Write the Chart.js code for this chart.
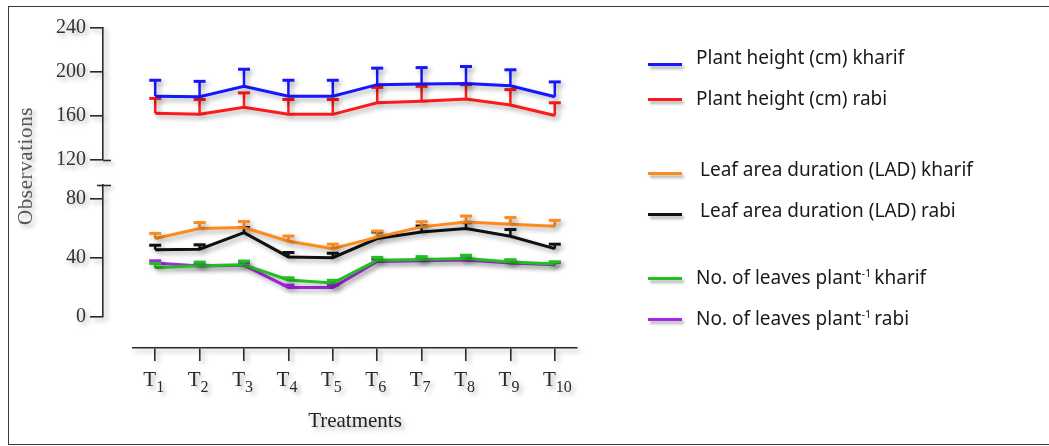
<!DOCTYPE html>
<html>
<head>
<meta charset="utf-8">
<script src="https://cdn.jsdelivr.net/npm/chart.js@4.4.1/dist/chart.umd.min.js"></script>
<style>
  html, body { margin: 0; padding: 0; background: #fff; }
  #wrap { position: relative; width: 1049px; height: 446px; overflow: hidden; }
  #frame { position: absolute; left: 8px; top: 6px; width: 1060px; height: 437px;
           border-top: 1.5px solid #3a3a3a; border-left: 1.5px solid #3a3a3a; border-bottom: 1.5px solid #3a3a3a; }
  canvas { position: absolute; left: 0; top: 0; }
  .sw { position: absolute; left: 648px; width: 34px; height: 3px; box-shadow: 2px 3px 3px rgba(0,0,0,0.3); }
  .tx { position: absolute; white-space: nowrap; font-family: 'Noto Sans', sans-serif; font-size: 19px;
        line-height: 26px; color: #1a1a1a; }
  .tx sup { font-size: 11px; vertical-align: 0; position: relative; top: -7px; margin-right: 3px; }
</style>
</head>
<body>
<div id="wrap">
  <div id="frame"></div>
  <canvas id="chart" width="1049" height="446"></canvas>
  <div id="legend"></div>
</div>
<script>
// Treatments on the x axis
const categories = ['T1', 'T2', 'T3', 'T4', 'T5', 'T6', 'T7', 'T8', 'T9', 'T10'];

// Plant height (cm)
const heightKharif    = [178, 177.5, 187, 178, 178, 188.5, 189, 189.5, 187.5, 177.5];
const heightKharifErr = [14.5, 14, 15.5, 14.5, 14.5, 15, 15, 15.5, 14.5, 13.5];
const heightRabi      = [162.5, 161.5, 168, 161.5, 161.5, 172, 173.5, 175.5, 170, 160.5];
const heightRabiErr   = [13.5, 13.5, 13, 13.5, 13.5, 14, 13.5, 13, 14, 11.5];

// Leaf area duration (LAD)
const ladKharif    = [53, 59.8, 60.5, 51.2, 46.2, 54, 60.9, 64.2, 62.7, 61.3];
const ladKharifErr = [3.5, 4, 4, 3.5, 3, 4, 3.5, 4, 4.5, 4];
const ladRabi      = [45.5, 45.8, 57, 40.6, 40.1, 53, 57.5, 59.8, 54.6, 46.2];
const ladRabiErr   = [3, 3, 3.5, 3, 3, 4.5, 4, 4, 4.5, 3];

// No. of leaves per plant
const leavesKharif    = [33.2, 34.6, 35.3, 25, 23, 38.3, 38.8, 39.5, 37.2, 35.8];
const leavesKharifErr = [3, 2.5, 2.5, 1.5, 1.8, 2, 2, 2.2, 1.5, 1.5];
const leavesRabi      = [36.5, 34.5, 35, 20, 20, 37.5, 38, 38.5, 36.5, 35.3];
const leavesRabiErr   = [1.5, 1.5, 1.5, 1.5, 1.5, 1.5, 1.5, 1.5, 1.5, 1.5];

// Tick labels of the broken y axis
const upperTicks = [120, 160, 200, 240];
const lowerTicks = [0, 40, 80];

const AXIS = '#2b2b2b';
const SERIF = "'Liberation Serif', 'Times New Roman', serif";

function series(label, data, err, color, axis) {
  return {
    label, data, errorBars: err, yAxisID: axis,
    borderColor: color, backgroundColor: color,
    borderWidth: 3, pointRadius: 0, pointHoverRadius: 0, tension: 0, fill: false
  };
}

const datasets = [
  series('Plant height (cm) kharif', heightKharif, heightKharifErr, '#1616ff', 'yTop'),
  series('Plant height (cm) rabi', heightRabi, heightRabiErr, '#ff1a1a', 'yTop'),
  series('Leaf area duration (LAD) kharif', ladKharif, ladKharifErr, '#ff8a1c', 'yBottom'),
  series('Leaf area duration (LAD) rabi', ladRabi, ladRabiErr, '#111111', 'yBottom'),
  series('No. of leaves plant⁻¹ kharif', leavesKharif, leavesKharifErr, '#20c020', 'yBottom'),
  series('No. of leaves plant⁻¹ rabi', leavesRabi, leavesRabiErr, '#a626e6', 'yBottom')
];

// soft drop shadow under everything drawn on the canvas
const shadowPlugin = {
  id: 'shadow',
  beforeDraw(chart) {
    const c = chart.ctx;
    c.shadowColor = 'rgba(0,0,0,0.33)';
    c.shadowBlur = 5;
    c.shadowOffsetX = 3;
    c.shadowOffsetY = 3;
  },
  afterDraw(chart) {
    const c = chart.ctx;
    c.shadowColor = 'rgba(0,0,0,0)';
    c.shadowBlur = 0;
    c.shadowOffsetX = 0;
    c.shadowOffsetY = 0;
  }
};

// detach the axes from the plot area: y axes sit further left, x axis lower
const axisOffsets = {
  id: 'axisOffsets',
  afterLayout(chart) {
    const s = chart.scales;
    ['yTop', 'yGap', 'yBottom'].forEach(id => { s[id].left -= 30; s[id].right -= 30; });
    s.x.top += 31;
    s.x.bottom += 31;
  }
};

// upward error bars with caps
const errorBars = {
  id: 'errorBars',
  afterDatasetDraw(chart, args) {
    const ds = chart.data.datasets[args.index];
    const meta = args.meta;
    const scale = chart.scales[ds.yAxisID];
    const c = chart.ctx;
    c.save();
    c.strokeStyle = ds.borderColor;
    meta.data.forEach((pt, i) => {
      const top = scale.getPixelForValue(ds.data[i] + ds.errorBars[i]);
      c.lineWidth = 2.5;
      c.beginPath();
      c.moveTo(pt.x, pt.y);
      c.lineTo(pt.x, top);
      c.stroke();
      c.lineWidth = 3;
      c.beginPath();
      c.moveTo(pt.x - 6, top);
      c.lineTo(pt.x + 6, top);
      c.stroke();
    });
    c.restore();
  }
};

// axis break marks, subscripted treatment labels and the y axis title
const decorations = {
  id: 'decorations',
  afterDraw(chart) {
    const c = chart.ctx;
    const s = chart.scales;
    c.save();
    c.shadowColor = 'rgba(0,0,0,0.3)';
    c.shadowBlur = 4;
    c.shadowOffsetX = 3;
    c.shadowOffsetY = 3;

    const axisX = s.yTop.right;
    c.strokeStyle = AXIS;
    c.lineWidth = 1.6;
    const yBreakTop = Math.round(s.yTop.getPixelForValue(upperTicks[0])) + 0.5;
    c.beginPath(); c.moveTo(axisX, yBreakTop); c.lineTo(axisX + 8, yBreakTop); c.stroke();
    const yBreakLow = Math.round(s.yBottom.top) + 0.5;
    c.beginPath(); c.moveTo(axisX - 6, yBreakLow); c.lineTo(axisX + 8, yBreakLow); c.stroke();

    c.fillStyle = '#2a2a2a';
    c.textBaseline = 'alphabetic';
    categories.forEach((lab, i) => {
      const x = s.x.getPixelForTick(i);
      const main = lab.charAt(0), sub = lab.slice(1);
      c.font = '21px ' + SERIF;
      c.textAlign = 'right';
      c.fillText(main, x + 1, 386);
      c.font = '16px ' + SERIF;
      c.textAlign = 'left';
      c.fillText(sub, x + 1, 392);
    });

    c.translate(26, 166);
    c.rotate(-Math.PI / 2);
    c.font = '21px ' + SERIF;
    c.fillStyle = '#555';
    c.textAlign = 'center';
    c.textBaseline = 'middle';
    c.letterSpacing = '0.6px';
    c.fillText('Observations', 0, 0);
    c.restore();
  }
};

function yAxis(weight, stackWeight, min, max, ticks) {
  return {
    type: 'linear', position: 'left', stack: 'obs', stackWeight, weight, min, max,
    afterBuildTicks(scale) { scale.ticks = ticks.map(v => ({ value: v })); },
    afterFit(scale) { scale.width = 60; },
    grid: { drawOnChartArea: false, drawTicks: true, tickLength: 13, color: AXIS, lineWidth: 1.6 },
    border: { display: true, color: AXIS, width: 1.6 },
    ticks: { font: { family: SERIF, size: 20 }, color: '#333', padding: 4, includeBounds: false }
  };
}

const chart = new Chart(document.getElementById('chart'), {
  type: 'line',
  data: { labels: categories, datasets },
  options: {
    responsive: false,
    devicePixelRatio: 1,
    animation: false,
    events: [],
    layout: { padding: { left: 73, right: 472, top: 28, bottom: 43.4 } },
    plugins: { legend: { display: false }, tooltip: { enabled: false } },
    scales: {
      x: {
        type: 'category', position: 'bottom', offset: true,
        afterFit(scale) { scale.height = 85.6; },
        grid: { drawOnChartArea: false, drawTicks: true, tickLength: 13, color: AXIS, lineWidth: 1.6 },
        border: { display: true, color: AXIS, width: 1.6 },
        ticks: { display: false },
        title: { display: true, text: 'Treatments', color: '#222', padding: 0,
                 font: { family: SERIF, size: 21 } }
      },
      yTop: yAxis(3, 132, 120, 240, upperTicks),
      yGap: { type: 'linear', position: 'left', stack: 'obs', stackWeight: 25, weight: 2, display: false },
      yBottom: yAxis(1, 132, 0, 89.2, lowerTicks)
    }
  },
  plugins: [shadowPlugin, axisOffsets, errorBars, decorations]
});

// legend on the right, built from the datasets
const swatchY = [64, 99, 173, 214, 278, 319];
const textY = [58, 98.5, 170, 211, 277.5, 318.5];
const textX = [696, 696, 700, 700, 696, 696];
const legend = document.getElementById('legend');
datasets.forEach((ds, i) => {
  const sw = document.createElement('div');
  sw.className = 'sw';
  sw.style.top = (swatchY[i] - 1.5) + 'px';
  sw.style.background = ds.borderColor;
  legend.appendChild(sw);
  const tx = document.createElement('div');
  tx.className = 'tx';
  tx.style.left = textX[i] + 'px';
  tx.style.top = (textY[i] - 13.6) + 'px';
  const parts = ds.label.split('⁻¹ ');
  tx.appendChild(document.createTextNode(parts[0]));
  if (parts.length > 1) {
    const sup = document.createElement('sup');
    sup.textContent = '-1';
    tx.appendChild(sup);
    tx.appendChild(document.createTextNode(parts[1]));
  }
  legend.appendChild(tx);
});
</script>
</body>
</html>
